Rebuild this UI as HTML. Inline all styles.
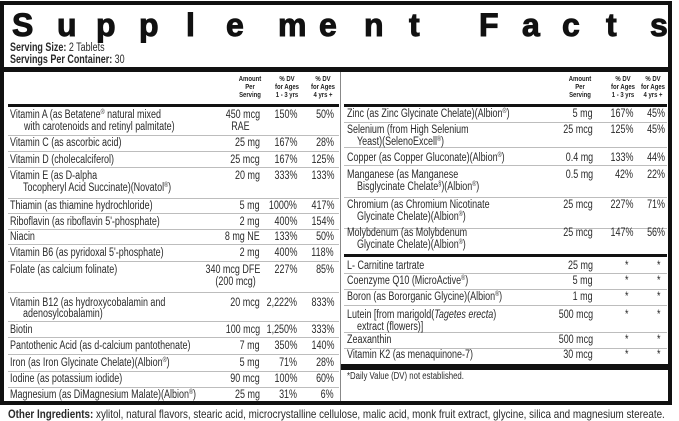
<!DOCTYPE html>
<html><head><meta charset="utf-8"><style>
html,body{margin:0;padding:0;background:#fff;}
body{width:679px;height:421px;position:relative;overflow:hidden;font-family:"Liberation Sans Narrow","Liberation Sans",sans-serif;color:#2a2a2a;}
.t{position:absolute;line-height:14px;white-space:nowrap;font-size:11.5px;transform:scaleX(.78);transform-origin:left center;}
.r{text-align:right;transform-origin:right center;}
.h{position:absolute;font-size:7px;font-weight:bold;line-height:8px;text-align:center;width:40px;color:#222;transform:scaleX(.85);}
.ln{position:absolute;height:1px;background:#bdbdbd;}
.L{left:8px;width:331px;}
.R{left:344px;width:323px;}
.ti{position:absolute;top:6px;font-family:"Liberation Sans",sans-serif;font-weight:900;font-size:32px;line-height:38px;color:#111;-webkit-text-stroke:1px #111;}
sup{font-size:7px;vertical-align:4px;line-height:0;}
</style></head><body>
<div style="position:absolute;left:0;top:1px;width:664px;height:396px;border:4px solid #111;"></div>
<span class="ti" style="left:12px">S</span><span class="ti" style="left:57px">u</span><span class="ti" style="left:96px">p</span><span class="ti" style="left:139px">p</span><span class="ti" style="left:186px">l</span><span class="ti" style="left:226px">e</span><span class="ti" style="left:278px">m</span><span class="ti" style="left:319px">e</span><span class="ti" style="left:364px">n</span><span class="ti" style="left:409px">t</span><span class="ti" style="left:479px">F</span><span class="ti" style="left:522px">a</span><span class="ti" style="left:562px">c</span><span class="ti" style="left:606px">t</span><span class="ti" style="left:650px">s</span>
<div class="t" style="left:10px;top:41px;font-size:11.5px"><b>Serving Size:</b> 2 Tablets</div>
<div class="t" style="left:10px;top:53px;font-size:11.5px"><b>Servings Per Container:</b> 30</div>
<div style="position:absolute;left:4px;top:67px;width:664px;height:5px;background:#111"></div>
<div style="position:absolute;left:340px;top:72px;width:1px;height:329px;background:#888"></div>
<div class="h" style="left:230px;top:76px">Amount<br>Per<br>Serving</div>
<div class="h" style="left:267px;top:76px">% DV<br>for Ages<br>1 - 3 yrs</div>
<div class="h" style="left:303px;top:76px">% DV<br>for Ages<br>4 yrs +</div>
<div class="h" style="left:560px;top:76px">Amount<br>Per<br>Serving</div>
<div class="h" style="left:603px;top:76px">% DV<br>for Ages<br>1 - 3 yrs</div>
<div class="h" style="left:633px;top:76px">% DV<br>for Ages<br>4 yrs +</div>
<div style="position:absolute;left:8px;top:104px;width:331px;height:3px;background:#111"></div>
<div style="position:absolute;left:344px;top:104px;width:323px;height:3px;background:#111"></div>
<div class="ln L" style="top:135px"></div><div class="ln L" style="top:151px"></div><div class="ln L" style="top:167px"></div><div class="ln L" style="top:198px"></div><div class="ln L" style="top:213px"></div><div class="ln L" style="top:229px"></div><div class="ln L" style="top:244px"></div><div class="ln L" style="top:261px"></div><div class="ln L" style="top:292px"></div><div class="ln L" style="top:321px"></div><div class="ln L" style="top:337px"></div><div class="ln L" style="top:354px"></div><div class="ln L" style="top:371px"></div><div class="ln L" style="top:387px"></div>

<div class="t" style="left:10px;top:108px">Vitamin A (as Betatene<sup>®</sup> natural mixed</div>
<div class="t" style="left:24px;top:120px">with carotenoids and retinyl palmitate)</div>
<div class="t r" style="right:419px;top:108px">450 mcg</div><div class="t r" style="right:429px;top:120px">RAE</div>
<div class="t r" style="right:382px;top:108px">150%</div><div class="t r" style="right:345px;top:108px">50%</div>

<div class="t" style="left:10px;top:136px">Vitamin C (as ascorbic acid)</div>
<div class="t r" style="right:419px;top:136px">25 mg</div><div class="t r" style="right:382px;top:136px">167%</div><div class="t r" style="right:345px;top:136px">28%</div>

<div class="t" style="left:10px;top:153px">Vitamin D (cholecalciferol)</div>
<div class="t r" style="right:419px;top:153px">25 mcg</div><div class="t r" style="right:382px;top:153px">167%</div><div class="t r" style="right:345px;top:153px">125%</div>

<div class="t" style="left:10px;top:169px">Vitamin E (as D-alpha</div>
<div class="t" style="left:23px;top:181px">Tocopheryl Acid Succinate)(Novatol<sup>®</sup>)</div>
<div class="t r" style="right:419px;top:169px">20 mg</div><div class="t r" style="right:382px;top:169px">333%</div><div class="t r" style="right:345px;top:169px">133%</div>

<div class="t" style="left:10px;top:199px">Thiamin (as thiamine hydrochloride)</div>
<div class="t r" style="right:419px;top:199px">5 mg</div><div class="t r" style="right:382px;top:199px">1000%</div><div class="t r" style="right:345px;top:199px">417%</div>

<div class="t" style="left:10px;top:215px">Riboflavin (as riboflavin 5'-phosphate)</div>
<div class="t r" style="right:419px;top:215px">2 mg</div><div class="t r" style="right:382px;top:215px">400%</div><div class="t r" style="right:345px;top:215px">154%</div>

<div class="t" style="left:10px;top:230px">Niacin</div>
<div class="t r" style="right:419px;top:230px">8 mg NE</div><div class="t r" style="right:382px;top:230px">133%</div><div class="t r" style="right:345px;top:230px">50%</div>

<div class="t" style="left:10px;top:246px">Vitamin B6 (as pyridoxal 5'-phosphate)</div>
<div class="t r" style="right:419px;top:246px">2 mg</div><div class="t r" style="right:382px;top:246px">400%</div><div class="t r" style="right:345px;top:246px">118%</div>

<div class="t" style="left:10px;top:263px">Folate (as calcium folinate)</div>
<div class="t r" style="right:419px;top:263px">340 mcg DFE</div><div class="t r" style="right:423px;top:275px">(200 mcg)</div>
<div class="t r" style="right:382px;top:263px">227%</div><div class="t r" style="right:345px;top:263px">85%</div>

<div class="t" style="left:10px;top:296px">Vitamin B12 (as hydroxycobalamin and</div>
<div class="t" style="left:23px;top:307px">adenosylcobalamin)</div>
<div class="t r" style="right:419px;top:296px">20 mcg</div><div class="t r" style="right:382px;top:296px">2,222%</div><div class="t r" style="right:345px;top:296px">833%</div>

<div class="t" style="left:10px;top:323px">Biotin</div>
<div class="t r" style="right:419px;top:323px">100 mcg</div><div class="t r" style="right:382px;top:323px">1,250%</div><div class="t r" style="right:345px;top:323px">333%</div>

<div class="t" style="left:10px;top:339px">Pantothenic Acid (as d-calcium pantothenate)</div>
<div class="t r" style="right:419px;top:339px">7 mg</div><div class="t r" style="right:382px;top:339px">350%</div><div class="t r" style="right:345px;top:339px">140%</div>

<div class="t" style="left:10px;top:356px">Iron (as Iron Glycinate Chelate)(Albion<sup>®</sup>)</div>
<div class="t r" style="right:419px;top:356px">5 mg</div><div class="t r" style="right:382px;top:356px">71%</div><div class="t r" style="right:345px;top:356px">28%</div>

<div class="t" style="left:10px;top:372px">Iodine (as potassium iodide)</div>
<div class="t r" style="right:419px;top:372px">90 mcg</div><div class="t r" style="right:382px;top:372px">100%</div><div class="t r" style="right:345px;top:372px">60%</div>

<div class="t" style="left:10px;top:388px">Magnesium (as DiMagnesium Malate)(Albion<sup>®</sup>)</div>
<div class="t r" style="right:419px;top:388px">25 mg</div><div class="t r" style="right:382px;top:388px">31%</div><div class="t r" style="right:345px;top:388px">6%</div>

<div class="ln R" style="top:122px"></div><div class="ln R" style="top:147px"></div><div class="ln R" style="top:165px"></div><div class="ln R" style="top:197px"></div><div class="ln R" style="top:228px"></div>
<div style="position:absolute;left:344px;top:254px;width:323px;height:3px;background:#111"></div>
<div class="ln R" style="top:273px"></div><div class="ln R" style="top:289px"></div><div class="ln R" style="top:305px"></div><div class="ln R" style="top:332px"></div><div class="ln R" style="top:348px"></div>
<div style="position:absolute;left:341px;top:364px;width:327px;height:6px;background:#111"></div>

<div class="t" style="left:347px;top:107px">Zinc (as Zinc Glycinate Chelate)(Albion<sup>®</sup>)</div>
<div class="t r" style="right:86px;top:107px">5 mg</div><div class="t r" style="right:46px;top:107px">167%</div><div class="t r" style="right:14px;top:107px">45%</div>

<div class="t" style="left:347px;top:123px">Selenium (from High Selenium</div>
<div class="t" style="left:357px;top:135px">Yeast)(SelenoExcell<sup>®</sup>)</div>
<div class="t r" style="right:86px;top:123px">25 mcg</div><div class="t r" style="right:46px;top:123px">125%</div><div class="t r" style="right:14px;top:123px">45%</div>

<div class="t" style="left:347px;top:151px">Copper (as Copper Gluconate)(Albion<sup>®</sup>)</div>
<div class="t r" style="right:86px;top:151px">0.4 mg</div><div class="t r" style="right:46px;top:151px">133%</div><div class="t r" style="right:14px;top:151px">44%</div>

<div class="t" style="left:347px;top:168px">Manganese (as Manganese</div>
<div class="t" style="left:357px;top:180px">Bisglycinate Chelate<sup>§</sup>)(Albion<sup>®</sup>)</div>
<div class="t r" style="right:86px;top:168px">0.5 mg</div><div class="t r" style="right:46px;top:168px">42%</div><div class="t r" style="right:14px;top:168px">22%</div>

<div class="t" style="left:347px;top:198px">Chromium (as Chromium Nicotinate</div>
<div class="t" style="left:357px;top:210px">Glycinate Chelate)(Albion<sup>®</sup>)</div>
<div class="t r" style="right:86px;top:198px">25 mcg</div><div class="t r" style="right:46px;top:198px">227%</div><div class="t r" style="right:14px;top:198px">71%</div>

<div class="t" style="left:347px;top:226px">Molybdenum (as Molybdenum</div>
<div class="t" style="left:357px;top:238px">Glycinate Chelate)(Albion<sup>®</sup>)</div>
<div class="t r" style="right:86px;top:226px">25 mcg</div><div class="t r" style="right:46px;top:226px">147%</div><div class="t r" style="right:14px;top:226px">56%</div>

<div class="t" style="left:347px;top:259px">L- Carnitine tartrate</div>
<div class="t r" style="right:86px;top:259px">25 mg</div><div class="t r" style="right:51px;top:259px">*</div><div class="t r" style="right:19px;top:259px">*</div>

<div class="t" style="left:347px;top:274px">Coenzyme Q10 (MicroActive<sup>®</sup>)</div>
<div class="t r" style="right:86px;top:274px">5 mg</div><div class="t r" style="right:51px;top:274px">*</div><div class="t r" style="right:19px;top:274px">*</div>

<div class="t" style="left:347px;top:290px">Boron (as Bororganic Glycine)(Albion<sup>®</sup>)</div>
<div class="t r" style="right:86px;top:290px">1 mg</div><div class="t r" style="right:51px;top:290px">*</div><div class="t r" style="right:19px;top:290px">*</div>

<div class="t" style="left:347px;top:308px">Lutein [from marigold(<i>Tagetes erecta</i>)</div>
<div class="t" style="left:357px;top:320px">extract (flowers)]</div>
<div class="t r" style="right:86px;top:308px">500 mcg</div><div class="t r" style="right:51px;top:308px">*</div><div class="t r" style="right:19px;top:308px">*</div>

<div class="t" style="left:347px;top:333px">Zeaxanthin</div>
<div class="t r" style="right:86px;top:333px">500 mcg</div><div class="t r" style="right:51px;top:333px">*</div><div class="t r" style="right:19px;top:333px">*</div>

<div class="t" style="left:347px;top:348px">Vitamin K2 (as menaquinone-7)</div>
<div class="t r" style="right:86px;top:348px">30 mcg</div><div class="t r" style="right:51px;top:348px">*</div><div class="t r" style="right:19px;top:348px">*</div>

<div class="t" style="left:347px;top:370px;font-size:10px">*Daily Value (DV) not established.</div>

<div class="t" style="left:8px;top:407px;font-size:12px;transform:scaleX(.82)"><b>Other Ingredients:</b> xylitol, natural flavors, stearic acid, microcrystalline cellulose, malic acid, monk fruit extract, glycine, silica and magnesium stereate.</div>
</body></html>
